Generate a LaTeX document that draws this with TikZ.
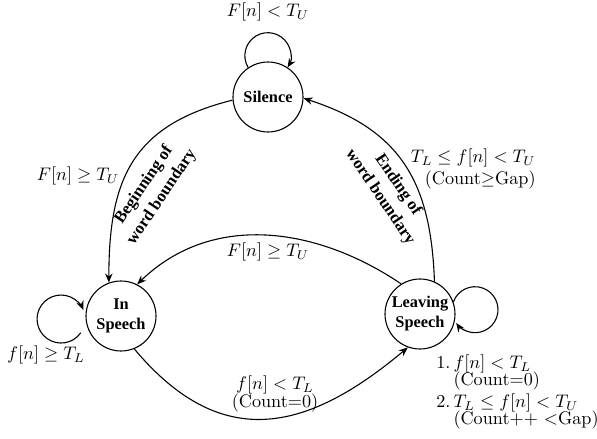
\documentclass[tikz,border=0pt]{standalone}
\usepackage{amsmath,amssymb}
\usepackage{fontspec}
\newfontfamily\timesfont{Liberation Serif}
\usetikzlibrary{arrows.meta}
\tikzset{
	st/.style={circle,draw=black,line width=0.6pt,minimum size=38.5pt,inner sep=0pt,align=center,
		font=\timesfont\bfseries\fontsize{9}{11}\selectfont},
	arr/.style={draw=black,line width=0.6pt,-{Stealth[length=5pt,width=4pt]}},
	bound/.style={align=center,inner sep=0pt,font=\timesfont\bfseries\fontsize{9.2}{11.8}\selectfont},
}

\begin{document}
\begin{tikzpicture}[x=0.55pt,y=-0.55pt]
	\useasboundingbox (0,0) rectangle (597,439);
	\node[st] (sil) at (268,97) {Silence};
	\node[st] (ins) at (121,316) {In\\Speech};
	\node[st] (lea) at (420,314) {Leaving\\Speech};
	\coordinate (insloop) at (80.7,332.8);
	% transitions
	\draw[arr] (sil.185) to[out=194,in=90,looseness=1.2] (ins.110);
	\draw[arr] (lea.66) to[out=92,in=-18,looseness=1.15] (sil.358);
	\draw[arr] (lea.122) to[out=146,in=44] (ins.63);
	\draw[arr] (ins.292) to[out=-50,in=-140,looseness=1.25] (lea.250);
	% self loops
	\draw[arr] (sil.124) arc[start angle=211,end angle=-31,radius=12.65pt];
	\draw[arr] (insloop) arc[start angle=-35,end angle=-338,radius=13.2pt];
	\draw[arr] (lea.20) arc[start angle=160,end angle=-145,radius=12.65pt];
	\node[bound,rotate=56] (beg) at (153,191) {Beginning of\\word boundary};
	\node[bound,rotate=-56] (endb) at (389,191) {Ending of\\word boundary};
	\node (toplab) at (268,12) {$F[n] < T_U$};
	\node (leftlab) at (78,176) {$F[n] \geq T_U$};
	\node[align=right,anchor=east] (endlab) at (542,169) {$T_L \leq f[n] < T_U$\\(Count$\geq$Gap)};
	\node (midlab) at (268,252) {$F[n] \geq T_U$};
	\node[align=center] (botlab) at (275,394) {$f[n] < T_L$\\[-2pt](Count=0)};
	\node (inslab) at (46,355) {$f[n] \geq T_L$};
	\node[anchor=north west,inner sep=0pt] (lealab) at (436,353) {\begin{tabular}{@{}l@{\,}l@{}}
		1. & $f[n] < T_L$\\[-2.6pt]
		   & (Count=0)\\
		2. & $T_L \leq f[n] < T_U$\\[-2.6pt]
		   & (Count++ $<$Gap)
		\end{tabular}};
\end{tikzpicture}
\end{document}
